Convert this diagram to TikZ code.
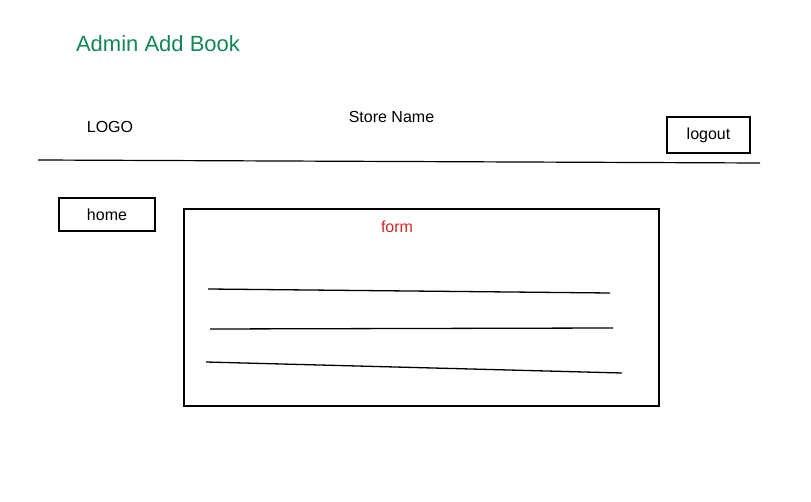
\documentclass[tikz,border=0pt]{standalone}
\usepackage{fontspec}
\setmainfont{Liberation Sans}
\usepackage{xcolor}
\definecolor{titlegreen}{RGB}{18,134,86}
\definecolor{formred}{RGB}{210,38,38}
\tikzset{btn/.style={draw,line width=1.2pt,inner sep=0pt}}

\begin{document}
\begin{tikzpicture}[x=1pt,y=-1pt,font=\fontsize{16}{19}\selectfont]
        \useasboundingbox (0,0) rectangle (811,502);
        %header
        \node[text=titlegreen,font=\fontsize{22}{26}\selectfont] (title) at (158,44){Admin Add Book};
        \node (logo) at (110,127){LOGO};
        \node (store) at (391.5,117){Store Name};
        \node[btn,minimum width=83pt,minimum height=36pt] (logout) at (708.5,135){logout};
        \draw[line width=1.2pt](38,160)--(760,163);
        %body
        \node[btn,minimum width=96pt,minimum height=33pt] (home) at (107,214.5){home};
        \node[draw,line width=1.1pt,minimum width=475pt,minimum height=197pt] (formbox) at (421.5,307.5){};
        \node[text=formred] (formlbl) at (397,227){form};
        \draw[line width=1.3pt] (208,289)--(610,293);
        \draw[line width=1.3pt] (210,329)--(613,328);
        \draw[line width=1.3pt] (206,362)--(622,373);
    \end{tikzpicture}
\end{document}
